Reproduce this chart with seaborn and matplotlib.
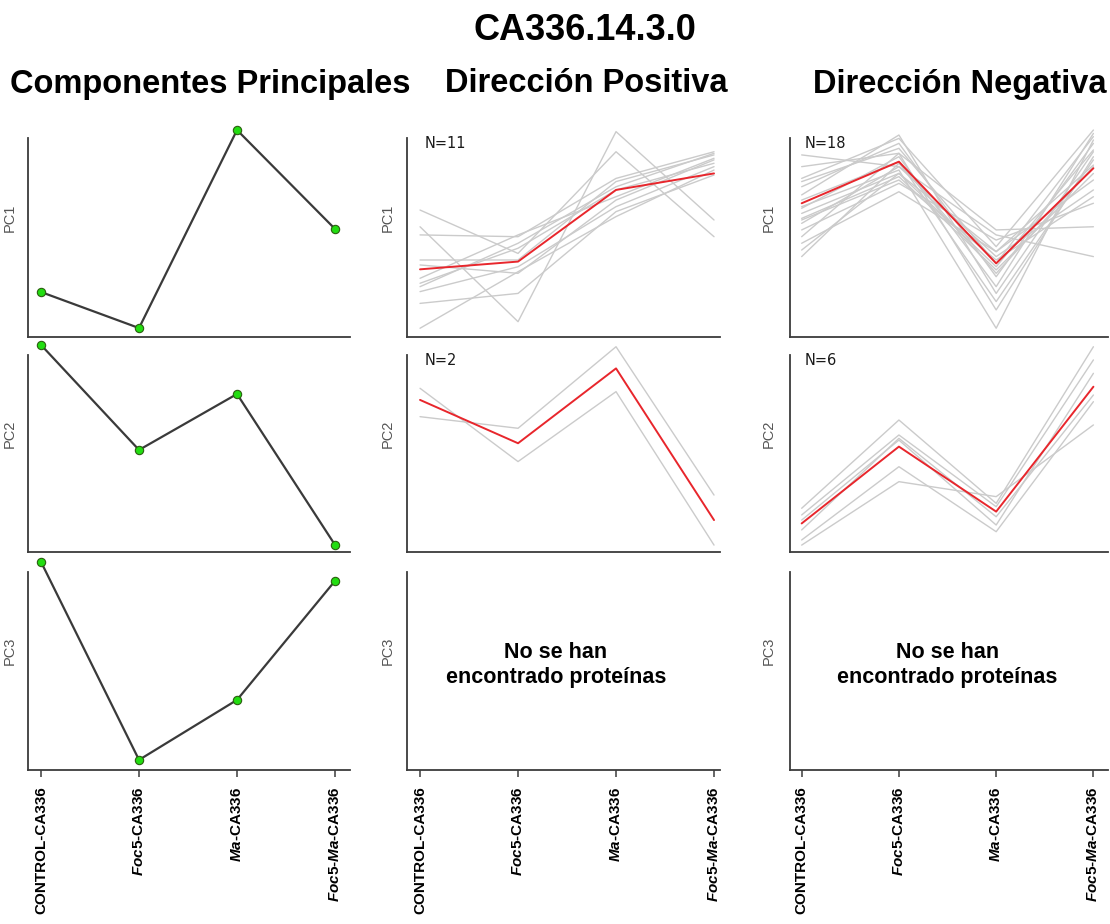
import numpy as np
import pandas as pd
import matplotlib
matplotlib.use("Agg")
import matplotlib.pyplot as plt
import seaborn as sns

# ---------------------------------------------------------------- data
condiciones = ["CONTROL-CA336", "Foc5-CA336", "Ma-CA336", "Foc5-Ma-CA336"]
etiquetas_x = ["CONTROL-CA336",
               r"$\mathit{Foc5}$-CA336",
               r"$\mathit{Ma}$-CA336",
               r"$\mathit{Foc5}$-$\mathit{Ma}$-CA336"]
componentes = ["PC1", "PC2", "PC3"]

# principal component loadings (scaled 0-100)
pc1 = [22.6, 4.5, 104.0, 54.3]
pc2 = [105.1, 51.8, 80.2, 3.6]
pc3 = [105.1, 5.1, 35.4, 95.5]

# positive direction, PC1: centroid + individual proteins (N=11)
pos_pc1_centro = [34.0, 37.9, 73.9, 82.2]
pos_pc1_perfiles = [
    [55.4, 7.7, 103.2, 58.8],
    [63.8, 42.0, 93.1, 50.4],
    [51.3, 50.4, 79.7, 93.1],
    [38.7, 38.7, 78.1, 91.5],
    [29.5, 51.3, 70.5, 89.8],
    [27.0, 44.6, 73.9, 87.3],
    [22.8, 35.3, 65.5, 85.6],
    [16.9, 21.9, 63.0, 81.4],
    [4.4, 32.8, 60.5, 83.9],
    [36.2, 32.0, 68.8, 89.0],
    [25.3, 47.1, 75.5, 92.3],
]

# negative direction, PC1 (N=18)
neg_pc1_centro = [67.2, 88.1, 37.0, 84.8]
neg_pc1_perfiles = [
    [91.5, 85.6, 51.3, 40.4],
    [85.6, 92.3, 53.8, 55.4],
    [79.7, 99.8, 45.4, 104.0],
    [78.1, 94.8, 37.0, 100.7],
    [75.5, 97.3, 30.3, 97.3],
    [71.4, 101.5, 21.9, 93.1],
    [68.8, 88.1, 17.8, 89.0],
    [65.5, 83.9, 4.4, 99.0],
    [62.1, 82.2, 42.9, 86.4],
    [59.6, 80.6, 33.7, 82.2],
    [57.1, 85.6, 40.4, 73.9],
    [53.8, 77.2, 48.7, 67.2],
    [50.4, 92.3, 13.6, 90.6],
    [47.1, 73.0, 42.9, 78.9],
    [43.7, 82.2, 35.3, 94.0],
    [40.4, 87.3, 32.0, 85.6],
    [64.7, 90.6, 25.3, 102.3],
    [58.8, 78.9, 38.7, 70.5],
]

# positive direction, PC2 (N=2)
pos_pc2_centro = [77.2, 55.2, 93.2, 16.2]
pos_pc2_perfiles = [
    [83.1, 45.9, 81.4, 3.5],
    [68.7, 62.8, 104.2, 28.9],
]

# negative direction, PC2 (N=6)
neg_pc2_centro = [14.5, 53.5, 20.5, 83.9]
neg_pc2_perfiles = [
    [22.2, 67.0, 24.7, 104.2],
    [18.8, 59.4, 23.0, 97.5],
    [11.2, 57.7, 17.9, 79.7],
    [6.1, 43.3, 10.3, 76.3],
    [3.5, 35.7, 28.1, 64.5],
    [16.2, 56.8, 13.7, 90.7],
]

titulo = "CA336.14.3.0"
titulos_columnas = ["Componentes Principales", "Dirección Positiva", "Dirección Negativa"]
texto_vacio = "No se han\nencontrado proteínas"

# ---------------------------------------------------------------- style
sns.set_theme(style="ticks")
plt.rcParams["font.family"] = ["Liberation Sans", "DejaVu Sans"]
plt.rcParams["text.color"] = "black"
plt.rcParams["xtick.labelcolor"] = "black"
plt.rcParams["mathtext.fontset"] = "custom"
plt.rcParams["mathtext.rm"] = "Liberation Sans:bold"
plt.rcParams["mathtext.bf"] = "Liberation Sans:bold"
plt.rcParams["mathtext.it"] = "Liberation Sans:italic:bold"

COL_SPINE = "#3c3c3c"
COL_GRIS = "#cbcbcb"
COL_ROJO = "#e8262c"

fig = plt.figure(figsize=(11.1, 9.24), dpi=100)
W, H = 1110.0, 924.0

# column extents (px), x limits, y-label offset
cols = [(28, 350, (-0.133, 3.153), -0.034),
        (407, 720, (-0.133, 3.061), -0.038),
        (790, 1108, (-0.12, 3.15), -0.044)]
rows = [(138, 337), (355, 552), (572, 770)]

axes = [[None] * 3 for _ in range(3)]
for r, (top, bot) in enumerate(rows):
    for c, (x0, x1, xl, _) in enumerate(cols):
        ax = fig.add_axes([x0 / W, 1 - bot / H, (x1 - x0) / W, (bot - top) / H])
        axes[r][c] = ax


def perfiles_df(perfiles):
    registros = []
    for i, p in enumerate(perfiles):
        for cond, v in zip(condiciones, p):
            registros.append({"perfil": i, "condicion": cond, "valor": v})
    return pd.DataFrame(registros)


# left column: loadings with markers
for r, vals in enumerate([pc1, pc2, pc3]):
    ax = axes[r][0]
    sns.lineplot(x=condiciones, y=vals, ax=ax, sort=False, color="#3a3a3a",
                 linewidth=1.6, marker="o", markersize=6,
                 markerfacecolor="#22dd11", markeredgecolor="#2b5e10",
                 markeredgewidth=0.8)

# profiles + centroids
grupos = {
    (0, 1): (pos_pc1_perfiles, pos_pc1_centro),
    (0, 2): (neg_pc1_perfiles, neg_pc1_centro),
    (1, 1): (pos_pc2_perfiles, pos_pc2_centro),
    (1, 2): (neg_pc2_perfiles, neg_pc2_centro),
}
for (r, c), (perfiles, centro) in grupos.items():
    ax = axes[r][c]
    sns.lineplot(data=perfiles_df(perfiles), x="condicion", y="valor",
                 units="perfil", estimator=None, sort=False, ax=ax,
                 color=COL_GRIS, linewidth=1.0)
    sns.lineplot(x=condiciones, y=centro, ax=ax, sort=False,
                 color=COL_ROJO, linewidth=1.4)
    ax.text(0.055 if c == 1 else 0.045, 0.97, f"N={len(perfiles)}",
            transform=ax.transAxes, ha="left", va="center", fontsize=10.5,
            family="DejaVu Sans", color="#1a1a1a")

for c, xc in ((1, 0.476), (2, 0.494)):
    axes[2][c].text(xc, 0.53, texto_vacio, transform=axes[2][c].transAxes,
                    ha="center", va="center", fontsize=15.5, fontweight="bold",
                    linespacing=1.2, color="black")

# axes cosmetics
for r in range(3):
    for c in range(3):
        ax = axes[r][c]
        ax.set_xlim(*cols[c][2])
        ax.set_ylim(0, 100)
        for ln in ax.lines:
            ln.set_clip_on(False)
        ax.set_xlabel("")
        ax.set_ylabel(componentes[r], fontsize=10.5, color="#555555")
        ax.yaxis.set_label_coords(cols[c][3], 0.6)
        ax.set_yticks([])
        for s in ("top", "right"):
            ax.spines[s].set_visible(False)
        for s in ("left", "bottom"):
            ax.spines[s].set_color(COL_SPINE)
            ax.spines[s].set_linewidth(1.3)
        ax.set_xticks(range(len(condiciones)))
        if r == 2:
            ax.set_xticklabels(etiquetas_x, rotation=90, fontsize=11,
                               fontweight="bold", va="top", ha="center",
                               color="black")
            ax.tick_params(axis="x", length=5, width=1.1, color=COL_SPINE,
                           pad=7)
        else:
            ax.tick_params(axis="x", bottom=False, labelbottom=False)

# titles
fig.text(585 / W, 1 - 31 / H, titulo, ha="center", va="center",
         fontsize=26, fontweight="bold", color="black")
for x, t in zip([210, 586, 960], titulos_columnas):
    fig.text(x / W, 1 - 84 / H, t, ha="center", va="center",
             fontsize=23.5, fontweight="bold", color="black")

fig.savefig("out.png", dpi=100)
